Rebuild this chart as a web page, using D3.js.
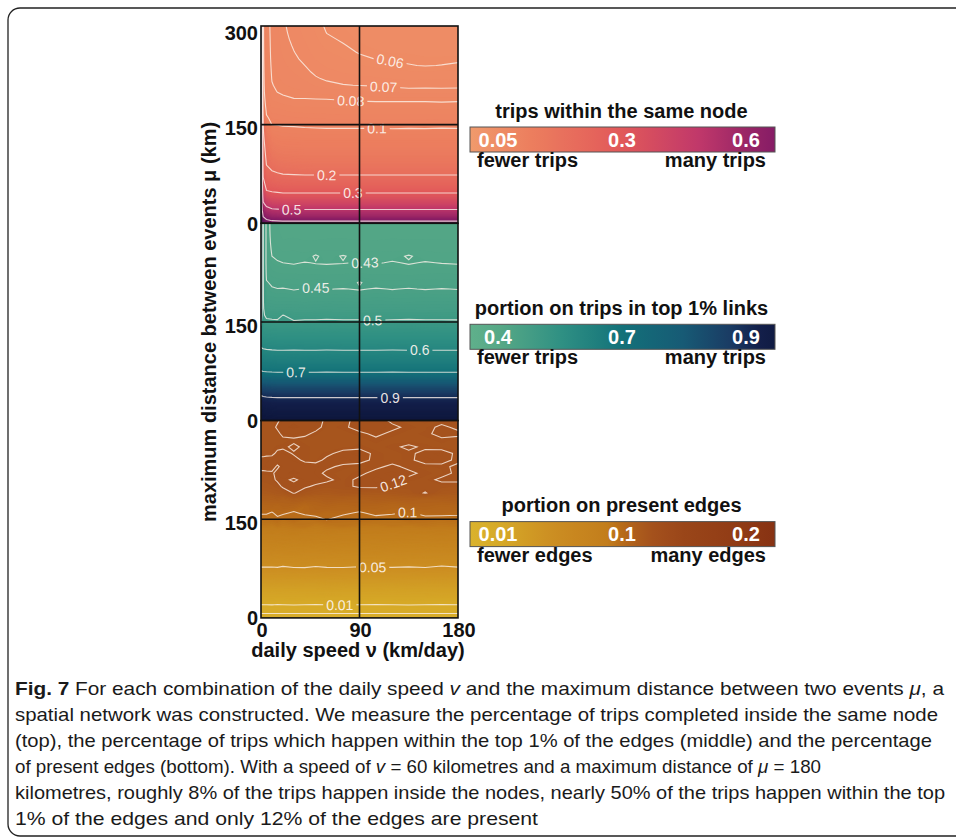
<!DOCTYPE html>
<html>
<head>
<meta charset="utf-8">
<script src="https://cdn.jsdelivr.net/npm/d3@7"></script>
<style>
  body { margin: 0; background: #fff; }
  svg { display: block; }
  .axisText { font-family: "Liberation Sans", Arial, sans-serif; font-weight: bold; font-size: 20px; fill: #111; }
  .clabel { font-family: "Liberation Sans", Arial, sans-serif; font-size: 14px; }
  .caption { font-family: "Liberation Sans Narrow", "Liberation Sans", Arial, sans-serif; font-size: 18.5px; fill: #1a1a1a; }
</style>
</head>
<body>
<div id="chart"></div>
<script>
// grid columns: daily speed v (km/day)
var speeds = [0, 2, 5, 10, 15, 20, 30, 40, 50, 60, 75, 90, 105, 120, 135, 150, 165, 180];
// grid rows: maximum distance between events mu (km)
var distances = [0, 10, 20, 30, 40, 50, 60, 70, 80, 90, 100, 110, 120, 130, 140, 150,
  160, 170, 180, 190, 200, 210, 220, 230, 240, 250, 260, 270, 280, 290, 300];

// trips within the same node (%), one row per distance, one column per speed
var sameNode = [
  [90, 82, 78, 76, 75.5, 75, 75, 75, 75, 75, 75, 75, 75, 75, 75, 75, 75, 75],
  [88, 70, 64, 61, 60.5, 60, 60, 60, 60, 60, 60, 60, 60, 60, 60, 60, 60, 60],
  [85, 60, 55, 52, 51.5, 51, 51, 51, 51, 51, 51, 51, 51, 51, 51, 51, 51, 51],
  [85, 52, 46, 42, 41.5, 41, 41, 41, 41, 41, 41, 41, 41, 41, 41, 41, 41, 41],
  [85, 44, 37, 34, 33.5, 33, 33, 33, 33, 33, 33, 33, 33, 33, 33, 33, 33, 33],
  [85, 38, 30, 29, 28.5, 28, 28, 28, 28, 28, 28, 28, 28, 28, 28, 28, 28, 28],
  [85, 33.5, 26.5, 25, 24.3, 24.1, 24, 24, 24, 24, 24, 24, 24, 24, 24, 24, 24, 24],
  [85, 30, 23.5, 22.3, 21.7, 21.3, 21.15, 21, 21, 21, 21, 21, 21, 21, 21, 21, 21, 21],
  [85, 27.5, 21.2, 20, 19.2, 18.6, 18.3, 18.1, 18, 18, 18, 18, 18, 18, 18, 18, 18, 18],
  [85, 25.5, 19.8, 18, 17, 16.4, 16.2, 16.1, 16, 16, 16, 16, 16, 16, 16, 16, 16, 16],
  [85, 24.2, 18.8, 16.3, 15.2, 14.8, 14.6, 14.5, 14.5, 14.5, 14.5, 14.5, 14.5, 14.5, 14.5, 14.5, 14.5, 14.5],
  [85, 23.2, 17.8, 14.5, 13.6, 13.2, 13.1, 13, 13, 13, 13, 13, 13, 13, 13, 13, 13, 13],
  [85, 22.3, 16.8, 13.2, 12.4, 12.2, 12.1, 12, 12, 12, 12, 12, 12, 12, 12, 12, 12, 12],
  [85, 21.5, 15, 11.9, 11.3, 11.15, 11.1, 11, 11, 11, 11, 11, 11, 11, 11, 11, 11, 11],
  [85, 20.7, 13, 10.8, 10.6, 10.5, 10.45, 10.4, 10.35, 10.3, 10.3, 10.3, 10.3, 10.25, 10.3, 10.3, 10.35, 10.3],
  [85, 20, 11.5, 10.0, 9.95, 9.85, 9.8, 9.7, 9.65, 9.6, 9.6, 9.6, 9.65, 9.6, 9.6, 9.55, 9.6, 9.6],
  [85, 16, 10.3, 9.5, 9.45, 9.35, 9.25, 9.2, 9.15, 9.1, 9.1, 9.1, 9.1, 9.1, 9.1, 9.1, 9.1, 9.1],
  [85, 13, 9.7, 9.05, 9.0, 8.9, 8.75, 8.7, 8.65, 8.62, 8.6, 8.6, 8.6, 8.6, 8.6, 8.6, 8.6, 8.6],
  [85, 11.5, 9.3, 8.65, 8.6, 8.5, 8.35, 8.35, 8.3, 8.3, 8.25, 8.2, 8.2, 8.2, 8.2, 8.2, 8.15, 8.2],
  [85, 10.9, 9.1, 8.35, 8.25, 8.1, 8.0, 7.99, 7.97, 7.95, 7.9, 7.85, 7.8, 7.8, 7.8, 7.8, 7.8, 7.8],
  [85, 10.6, 8.95, 8.17, 7.98, 7.9, 7.8, 7.72, 7.6, 7.55, 7.45, 7.35, 7.3, 7.25, 7.2, 7.2, 7.18, 7.2],
  [85, 10.5, 8.85, 8.05, 7.85, 7.75, 7.62, 7.48, 7.3, 7.15, 7.03, 6.98, 6.95, 6.88, 6.83, 6.85, 6.85, 6.85],
  [85, 10.45, 8.78, 7.96, 7.75, 7.62, 7.46, 7.28, 7.06, 6.92, 6.78, 6.7, 6.65, 6.58, 6.53, 6.55, 6.56, 6.55],
  [85, 10.4, 8.72, 7.9, 7.67, 7.5, 7.32, 7.13, 6.9, 6.72, 6.58, 6.47, 6.4, 6.33, 6.28, 6.25, 6.3, 6.32],
  [85, 10.35, 8.67, 7.85, 7.6, 7.42, 7.2, 7.0, 6.74, 6.55, 6.4, 6.25, 6.15, 6.1, 6.02, 5.98, 6.01, 6.06],
  [85, 10.3, 8.63, 7.8, 7.55, 7.35, 7.1, 6.88, 6.58, 6.4, 6.24, 6.08, 5.99, 5.95, 5.93, 5.9, 5.9, 5.92],
  [85, 10.28, 8.6, 7.77, 7.5, 7.28, 7.02, 6.77, 6.45, 6.27, 6.12, 5.97, 5.9, 5.84, 5.85, 5.8, 5.8, 5.8],
  [85, 10.25, 8.57, 7.75, 7.47, 7.22, 6.95, 6.67, 6.35, 6.16, 6.03, 5.9, 5.82, 5.74, 5.74, 5.7, 5.7, 5.7],
  [85, 10.23, 8.55, 7.73, 7.44, 7.17, 6.88, 6.58, 6.28, 6.07, 5.95, 5.84, 5.75, 5.64, 5.62, 5.6, 5.6, 5.6],
  [85, 10.21, 8.52, 7.71, 7.42, 7.13, 6.82, 6.5, 6.22, 5.99, 5.9, 5.8, 5.7, 5.58, 5.57, 5.55, 5.55, 5.55],
  [85, 10.2, 8.5, 7.7, 7.4, 7.1, 6.76, 6.43, 6.18, 5.93, 5.86, 5.77, 5.66, 5.53, 5.52, 5.5, 5.5, 5.5]
];

// portion of trips on the top 1% links (%)
var topLinks = [
  [98, 97.5, 97.3, 97.1, 97, 97, 97, 97, 97, 97, 97, 97, 97, 97, 97, 97, 97, 97],
  [96.5, 96, 95.8, 95.6, 95.5, 95.5, 95.5, 95.5, 95.5, 95.5, 95.5, 95.5, 95.5, 95.5, 95.5, 95.5, 95.5, 95.5],
  [94.7, 94.2, 94, 93.8, 93.7, 93.7, 93.7, 93.7, 93.7, 93.7, 93.7, 93.7, 93.7, 93.7, 93.7, 93.7, 93.7, 93.7],
  [92.5, 92, 91.8, 91.6, 91.5, 91.5, 91.5, 91.5, 91.5, 91.5, 91.5, 91.5, 91.5, 91.5, 91.5, 91.5, 91.5, 91.5],
  [89.5, 89, 88.8, 88.6, 88.5, 88.5, 88.5, 88.5, 88.5, 88.5, 88.5, 88.5, 88.5, 88.5, 88.5, 88.5, 88.5, 88.5],
  [85, 84.5, 84.3, 84.1, 84, 84, 84, 84, 84, 84, 84, 84, 84, 84, 84, 84, 84, 84],
  [79.5, 79, 78.8, 78.6, 78.5, 78.5, 78.5, 78.5, 78.5, 78.5, 78.5, 78.5, 78.5, 78.5, 78.5, 78.5, 78.5, 78.5],
  [72.5, 72, 71.8, 71.6, 71.5, 71.5, 71.6, 71.4, 71.5, 71.6, 71.5, 71.4, 71.5, 71.6, 71.5, 71.4, 71.5, 71.5],
  [68.3, 67.8, 67.6, 67.4, 67.3, 67.3, 67.3, 67.3, 67.3, 67.3, 67.3, 67.3, 67.3, 67.3, 67.3, 67.3, 67.3, 67.3],
  [65.2, 64.7, 64.5, 64.3, 64.2, 64.2, 64.2, 64.2, 64.2, 64.2, 64.2, 64.2, 64.2, 64.2, 64.2, 64.2, 64.2, 64.2],
  [62.7, 62.2, 62, 61.8, 61.7, 61.7, 61.6, 61.8, 61.7, 61.6, 61.7, 61.8, 61.7, 61.6, 61.7, 61.8, 61.7, 61.7],
  [60.3, 59.8, 59.6, 59.4, 59.3, 59.3, 59.4, 59.2, 59.3, 59.4, 59.3, 59.2, 59.3, 59.4, 59.3, 59.2, 59.3, 59.3],
  [58, 57.5, 57.3, 57.1, 57, 57, 57, 57, 57, 57, 57, 57, 57, 57, 57, 57, 57, 57],
  [56, 55.3, 55.1, 54.9, 54.8, 54.8, 54.8, 54.8, 54.8, 54.8, 54.8, 54.8, 54.8, 54.8, 54.8, 54.8, 54.8, 54.8],
  [57, 53.1, 52.9, 52.7, 52.6, 52.6, 52.5, 52.7, 52.6, 52.5, 52.7, 52.6, 52.5, 52.6, 52.7, 52.5, 52.6, 52.6],
  [62, 51.5, 50.9, 50.7, 50.6, 50.7, 50.3, 50.6, 50.5, 50.8, 50.6, 50.5, 50.4, 50.6, 50.7, 50.5, 50.6, 50.5],
  [68, 50.6, 49.2, 49.0, 48.9, 50.1, 48.9, 48.8, 49.0, 48.9, 48.8, 49.0, 48.9, 48.8, 48.9, 49.0, 48.8, 48.9],
  [70, 50.4, 47.8, 47.6, 47.5, 47.6, 47.5, 47.4, 47.5, 47.6, 47.5, 47.4, 47.5, 47.6, 47.5, 47.4, 47.5, 47.5],
  [70, 50.3, 46.8, 46.6, 46.5, 46.5, 46.6, 46.4, 46.5, 46.6, 46.5, 46.4, 46.6, 46.5, 46.4, 46.5, 46.6, 46.5],
  [70, 50.3, 46.0, 45.85, 45.7, 45.8, 45.6, 45.7, 45.8, 45.6, 45.7, 45.5, 45.8, 45.6, 45.7, 45.8, 45.6, 45.7],
  [70, 50.3, 45.7, 45.2, 45.05, 45.1, 44.9, 45.05, 45.15, 44.95, 45.05, 44.9, 45.1, 44.95, 45.08, 44.92, 45.05, 44.95],
  [70, 50.3, 45.2, 44.65, 44.5, 44.4, 44.5, 44.35, 44.4, 44.45, 44.3, 45.1, 44.4, 44.35, 44.45, 44.4, 44.35, 44.4],
  [70, 50.3, 44.6, 44.15, 44.0, 43.9, 43.95, 43.85, 43.9, 43.8, 43.9, 43.95, 43.85, 43.9, 43.8, 43.9, 43.95, 43.9],
  [70, 50.3, 44.3, 43.7, 43.5, 43.45, 43.35, 43.4, 43.3, 43.45, 43.4, 43.35, 43.45, 43.4, 43.3, 43.4, 43.45, 43.35],
  [70, 50.3, 44.1, 43.3, 43.1, 43.0, 42.9, 43.05, 42.95, 42.85, 42.95, 43.05, 42.9, 43.1, 42.9, 43.08, 42.95, 42.9],
  [70, 50.3, 44.1, 43.0, 42.8, 42.6, 42.65, 42.55, 43.15, 42.6, 43.1, 42.55, 42.6, 42.65, 43.12, 42.6, 42.55, 42.6],
  [70, 50.3, 44.1, 42.8, 42.55, 42.35, 42.4, 42.3, 42.35, 42.4, 42.3, 42.35, 42.4, 42.3, 42.35, 42.4, 42.3, 42.35],
  [70, 50.3, 44.1, 42.6, 42.35, 42.1, 42.15, 42.05, 42.1, 42.15, 42.1, 42.05, 42.1, 42.15, 42.1, 42.05, 42.1, 42.1],
  [70, 50.3, 44.1, 42.45, 42.2, 41.9, 41.95, 41.9, 41.85, 41.9, 41.95, 41.9, 41.85, 41.9, 41.9, 41.95, 41.9, 41.9],
  [70, 50.3, 44.1, 42.35, 42.1, 41.75, 41.75, 41.8, 41.75, 41.7, 41.75, 41.8, 41.75, 41.7, 41.75, 41.75, 41.8, 41.75],
  [70, 50.3, 44.1, 42.3, 42.0, 41.6, 41.6, 41.65, 41.6, 41.55, 41.6, 41.65, 41.6, 41.55, 41.6, 41.6, 41.65, 41.6]
];

// portion of present edges (%)
var presentEdges = [
  [0.3, 0.3, 0.3, 0.3, 0.3, 0.3, 0.3, 0.3, 0.3, 0.3, 0.3, 0.3, 0.3, 0.3, 0.3, 0.3, 0.3, 0.3],
  [0.6, 0.6, 0.6, 0.6, 0.6, 0.6, 0.6, 0.6, 0.6, 0.6, 0.6, 0.6, 0.6, 0.6, 0.6, 0.6, 0.6, 0.6],
  [1.0, 1.0, 1.0, 1.01, 0.99, 1.0, 1.02, 1.0, 0.99, 1.0, 1.01, 1.0, 0.99, 1.0, 1.02, 1.0, 0.99, 1.0],
  [1.6, 1.6, 1.6, 1.62, 1.58, 1.6, 1.63, 1.6, 1.58, 1.61, 1.6, 1.62, 1.59, 1.6, 1.61, 1.6, 1.58, 1.6],
  [2.3, 2.3, 2.3, 2.28, 2.33, 2.3, 2.27, 2.32, 2.3, 2.34, 2.29, 2.3, 2.33, 2.28, 2.3, 2.32, 2.29, 2.3],
  [3.0, 3.0, 3.0, 3.05, 2.97, 3.02, 3.06, 2.96, 3.0, 3.04, 2.98, 3.03, 3.0, 2.97, 3.05, 3.0, 3.02, 2.98],
  [3.8, 3.8, 3.8, 3.76, 3.84, 3.8, 3.75, 3.85, 3.78, 3.82, 3.86, 3.77, 3.8, 3.84, 3.76, 3.8, 3.83, 3.78],
  [4.5, 4.5, 4.5, 4.55, 4.46, 4.52, 4.58, 4.45, 4.5, 4.56, 4.44, 4.5, 4.54, 4.47, 4.52, 4.6, 4.58, 4.5],
  [5.2, 5.2, 5.2, 5.15, 5.25, 5.1, 5.22, 5.3, 5.12, 5.2, 5.27, 5.14, 5.2, 5.25, 5.15, 5.2, 5.05, 5.2],
  [5.9, 5.9, 5.9, 5.95, 5.85, 5.92, 5.88, 5.96, 5.9, 5.84, 5.93, 5.9, 5.87, 5.95, 5.9, 5.86, 5.92, 5.9],
  [6.6, 6.6, 6.6, 6.65, 6.55, 6.62, 6.7, 6.58, 6.6, 6.66, 6.54, 6.6, 6.68, 6.57, 6.62, 6.6, 6.56, 6.64],
  [7.3, 7.3, 7.3, 7.35, 7.25, 7.4, 7.28, 7.32, 7.22, 7.36, 7.3, 7.26, 7.38, 7.3, 7.24, 7.34, 7.3, 7.28],
  [8.0, 8.0, 8.0, 7.9, 8.1, 8.05, 7.95, 8.15, 8.0, 7.88, 8.08, 8.0, 7.92, 8.12, 8.0, 7.95, 8.06, 8.0],
  [8.6, 8.6, 8.6, 8.7, 8.5, 8.65, 8.8, 8.55, 8.6, 8.75, 8.5, 8.62, 8.7, 8.52, 8.68, 8.6, 8.74, 8.58],
  [9.2, 9.2, 9.2, 9.1, 9.35, 9.15, 9.3, 9.4, 9.1, 9.25, 9.45, 9.2, 9.1, 9.3, 9.15, 9.35, 9.2, 9.3],
  [9.7, 9.7, 9.7, 9.75, 9.85, 9.6, 9.95, 9.55, 9.75, 10.05, 9.65, 9.8, 9.7, 9.55, 9.95, 9.8, 9.65, 9.85],
  [10.1, 10.1, 10.1, 9.95, 10.2, 10.15, 9.9, 10.2, 10.3, 10.05, 10.2, 9.9, 10.25, 10.15, 9.95, 10.2, 10.3, 10.1],
  [10.4, 10.4, 10.45, 10.5, 10.3, 10.6, 10.5, 10.1, 10.5, 10.6, 10.4, 10.6, 10.5, 10.3, 10.5, 10.6, 10.4, 10.5],
  [10.9, 10.9, 10.9, 10.85, 11.0, 10.8, 11.1, 10.9, 10.8, 11.0, 10.9, 10.8, 11.0, 10.9, 11.0, 10.8, 10.9, 11.0],
  [11.3, 11.3, 11.35, 11.4, 11.5, 11.6, 12.05, 11.7, 11.5, 11.4, 11.6, 11.5, 11.4, 11.5, 11.6, 12.05, 11.5, 11.4],
  [11.6, 11.6, 11.65, 11.7, 11.8, 12.1, 12.2, 12.1, 11.9, 11.8, 11.85, 12.1, 12.15, 11.9, 11.8, 11.75, 11.8, 11.7],
  [11.8, 11.8, 11.8, 11.85, 12.1, 12.15, 11.9, 12.2, 12.25, 12.1, 11.85, 12.1, 12.2, 12.15, 11.9, 11.85, 12.1, 12.15],
  [11.9, 11.9, 11.9, 11.9, 12.2, 12.3, 12.35, 12.3, 12.15, 11.9, 11.85, 11.9, 12.15, 12.2, 12.1, 11.9, 11.85, 12.1],
  [12.15, 12.15, 12.2, 12.25, 11.9, 12.2, 12.3, 12.25, 12.2, 12.1, 11.9, 11.85, 11.9, 12.1, 11.9, 11.85, 11.9, 12.1],
  [12.1, 12.1, 12.15, 12.2, 12.3, 12.25, 12.15, 11.9, 11.85, 12.1, 12.2, 12.15, 11.9, 11.85, 11.9, 12.2, 12.15, 11.9],
  [11.9, 11.9, 11.9, 11.9, 12.1, 12.2, 11.95, 11.9, 11.85, 11.9, 12.15, 12.2, 11.9, 11.85, 11.9, 12.15, 12.2, 11.9],
  [11.85, 11.85, 11.85, 11.85, 11.9, 11.9, 12.1, 11.9, 11.85, 11.8, 11.85, 11.9, 11.85, 11.9, 12.1, 11.9, 11.85, 11.85],
  [11.8, 11.8, 11.8, 11.8, 11.8, 11.85, 11.9, 11.85, 11.8, 11.85, 11.8, 11.85, 11.9, 11.85, 11.8, 11.85, 11.9, 11.85],
  [11.8, 11.8, 11.8, 11.8, 11.85, 12.15, 12.2, 12.1, 11.9, 11.8, 11.85, 11.9, 12.1, 11.9, 11.85, 11.9, 12.15, 12.1],
  [11.8, 11.8, 11.8, 11.8, 12.1, 12.3, 12.35, 12.3, 12.15, 11.85, 11.9, 12.2, 12.3, 12.1, 11.9, 11.85, 12.1, 11.9],
  [11.85, 11.85, 11.85, 11.85, 11.9, 12.2, 12.3, 12.25, 12.2, 11.9, 11.85, 12.2, 12.25, 11.9, 11.85, 11.9, 11.85, 11.9]
];

// contour levels (%)
var sameNodeLevels = [6, 7, 8, 10, 20, 30, 50, 70];
var topLinksLevels = [43, 45, 50, 60, 70, 90];
var presentEdgesLevels = [0.5, 1, 5, 10, 12];

var legendTitles = ["trips within the same node", "portion on trips in top 1% links", "portion on present edges"];
var legendTicks = [[0.05, 0.3, 0.6], [0.4, 0.7, 0.9], [0.01, 0.1, 0.2]];
var legendEnds = [["fewer trips", "many trips"], ["fewer trips", "many trips"], ["fewer edges", "many edges"]];

var xTicks = [0, 90, 180];
var yTicks = [300, 150, 0];

var captionLines = [
  "**Fig. 7** For each combination of the daily speed *v* and the maximum distance between two events *μ*, a",
  "spatial network was constructed. We measure the percentage of trips completed inside the same node",
  "(top), the percentage of trips which happen within the top 1% of the edges (middle) and the percentage",
  "of present edges (bottom). With a speed of *v* = 60 kilometres and a maximum distance of *μ* = 180",
  "kilometres, roughly 8% of the trips happen inside the nodes, nearly 50% of the trips happen within the top",
  "1% of the edges and only 12% of the edges are present"
];

// ---- layout / style ----
var svgWidth = 956, svgHeight = 839;
var plotLeft = 261, plotRight = 458, plotTop = 26, panelH = 197.3;
var barLeft = 470, barWidth = 305, barH = 25;
var tickU = [28 / 305, 0.5, 276 / 305];   // where the three legend ticks sit along a bar
var captionEnds = [944, 938, 932, 821, 945, 538];

var panels = [
  { values: sameNode, levels: sameNodeLevels,
    rampAt: [0, 0.2, 0.5, 0.75, 0.92, 1.0, 1.15, 1.35],
    ramp: ["#f09a6c", "#ec7e5e", "#e1585a", "#c0386a", "#962466", "#861c66", "#651a5f", "#3f1552"],
    labels: [[6, 118, 243], [7, 112, 210], [8, 82, 188], [10, 106, 144], [20, 60, 72], [30, 84, 44], [50, 28, 21]] },
  { values: topLinks, levels: topLinksLevels,
    rampAt: [0, 0.1, 0.3, 0.5, 0.7, 0.85, 0.95, 1.05],
    ramp: ["#5fb08b", "#56a886", "#2f9083", "#137179", "#175a75", "#1a3c64", "#131f4a", "#0d163c"],
    labels: [[43, 95, 238], [45, 50, 201], [50, 102, 153], [60, 145, 106], [70, 32, 73], [90, 118, 35]] },
  { values: presentEdges, levels: presentEdgesLevels,
    rampAt: [0, 0.1, 0.27, 0.45, 0.5, 0.58, 0.7, 0.905, 1.0],
    ramp: ["#dab22c", "#d6a927", "#cc8e22", "#c27d1c", "#b76a19", "#a6531d", "#9a4619", "#8f3a15", "#873213"],
    labels: [[12, 121, 195], [10, 134, 160], [5, 102, 76], [1, 72, 20]] }
];

var svg = d3.select("#chart").append("svg")
  .attr("width", svgWidth)
  .attr("height", svgHeight);

svg.append("rect").attr("width", svgWidth).attr("height", svgHeight).attr("fill", "#fff");

// outer frame of the figure
svg.append("rect")
  .attr("x", 8).attr("y", 8)
  .attr("width", 1000).attr("height", 828)
  .attr("rx", 12)
  .attr("fill", "none")
  .attr("stroke", "#222")
  .attr("stroke-width", 1.3);

var defs = svg.append("defs");

var xScale = d3.scaleLinear().domain([0, 180]).range([plotLeft, plotRight]);
// grid coordinate (cell centre at i + 0.5) -> data value
var gx = d3.scaleLinear().domain(speeds.map(function(d, i) { return i + 0.5; })).range(speeds);
var gy = d3.scaleLinear().domain(distances.map(function(d, i) { return i + 0.5; })).range(distances);

var fmtLevel = function(l) { return String(+(l / 100).toFixed(3)); };

panels.forEach(function(p, k) {
  var top = plotTop + k * panelH;
  var yScale = d3.scaleLinear().domain([0, 300]).range([top + panelH, top]);
  var toU = d3.scaleLinear().domain(legendTicks[k].map(function(t) { return t * 100; })).range(tickU);
  var color = d3.scaleLinear().domain(p.rampAt).range(p.ramp).clamp(true);

  var flat = d3.merge(p.values);
  var nx = speeds.length, ny = distances.length;
  var proj = d3.geoTransform({
    point: function(x, y) { this.stream.point(xScale(gx(x)), yScale(gy(y))); }
  });
  var path = d3.geoPath(proj);

  defs.append("clipPath").attr("id", "clip" + k)
    .append("rect")
    .attr("x", plotLeft).attr("y", top)
    .attr("width", plotRight - plotLeft).attr("height", panelH);

  var g = svg.append("g").attr("clip-path", "url(#clip" + k + ")");

  // smooth heat map: many thin filled bands
  var ext = d3.extent(flat);
  var step = 0.006;
  var uVals = d3.range(toU(ext[0]), toU(ext[1]), step);
  g.append("rect")
    .attr("x", plotLeft).attr("y", top)
    .attr("width", plotRight - plotLeft).attr("height", panelH)
    .attr("fill", color(toU(ext[0])));
  var bands = d3.contours().size([nx, ny])
    .thresholds(uVals.map(function(u) { return toU.invert(u); }))(flat);
  g.selectAll(".band")
    .data(bands)
    .enter()
    .append("path")
    .attr("class", "band")
    .attr("d", path)
    .attr("fill", function(d) { return color(toU(d.value) + step / 2); });

  // contour lines with gaps for the labels
  var lines = d3.contours().size([nx, ny]).thresholds(p.levels)(flat);
  var mask = defs.append("mask").attr("id", "mask" + k)
    .attr("maskUnits", "userSpaceOnUse")
    .attr("x", 0).attr("y", 0).attr("width", svgWidth).attr("height", svgHeight);
  mask.append("rect").attr("width", svgWidth).attr("height", svgHeight).attr("fill", "#fff");

  g.append("g").attr("mask", "url(#mask" + k + ")")
    .selectAll("path")
    .data(lines)
    .enter()
    .append("path")
    .attr("d", path)
    .attr("fill", "none")
    .attr("stroke", "#fbf1ea")
    .attr("stroke-opacity", 0.8)
    .attr("stroke-width", 1.1);

  p.labels.forEach(function(lab) {
    var geom = lines.find(function(c) { return c.value === lab[0]; });
    var hx = xScale(lab[1]), hy = yScale(lab[2]);
    var best = null;
    geom.coordinates.forEach(function(poly) {
      poly.forEach(function(ring) {
        var pts = ring.map(function(c) { return [xScale(gx(c[0])), yScale(gy(c[1]))]; });
        for (var i = 1; i < pts.length; i++) {
          var a = pts[i - 1], b = pts[i];
          if ((a[0] - hx) * (b[0] - hx) > 0 || a[0] === b[0]) continue;
          var y = a[1] + (hx - a[0]) / (b[0] - a[0]) * (b[1] - a[1]);
          var dist = Math.abs(y - hy);
          if (!best || dist < best.dist) {
            var p0 = pts[Math.max(0, i - 3)], p1 = pts[Math.min(pts.length - 1, i + 2)];
            var ang = Math.atan2(p1[1] - p0[1], p1[0] - p0[0]) * 180 / Math.PI;
            if (ang > 90) ang -= 180;
            if (ang < -90) ang += 180;
            best = { y: y, dist: dist, ang: Math.max(-30, Math.min(30, ang)) };
          }
        }
      });
    });
    if (!best) best = { y: hy, ang: 0 };
    var tr = "translate(" + hx + "," + best.y + ") rotate(" + best.ang + ")";
    var t = g.append("text")
      .attr("class", "clabel")
      .attr("transform", tr)
      .attr("text-anchor", "middle")
      .attr("dy", "0.36em")
      .attr("fill", "#fdf6f1")
      .attr("fill-opacity", 0.92)
      .text(fmtLevel(lab[0]));
    var w = t.node().getComputedTextLength();
    mask.append("rect")
      .attr("transform", tr)
      .attr("x", -w / 2 - 3).attr("y", -7)
      .attr("width", w + 6).attr("height", 14)
      .attr("fill", "#000");
  });

  // grid lines and border
  svg.append("line")
    .attr("x1", xScale(90)).attr("x2", xScale(90))
    .attr("y1", top).attr("y2", top + panelH)
    .attr("stroke", "#111").attr("stroke-width", 1.6);
  svg.append("line")
    .attr("x1", plotLeft).attr("x2", plotRight)
    .attr("y1", yScale(150)).attr("y2", yScale(150))
    .attr("stroke", "#111").attr("stroke-width", 1.6);
  svg.append("rect")
    .attr("x", plotLeft).attr("y", top)
    .attr("width", plotRight - plotLeft).attr("height", panelH)
    .attr("fill", "none").attr("stroke", "#111").attr("stroke-width", 1.6);

  // y tick labels
  var nudge = { 300: 7, 150: 3.5, 0: 0 };
  svg.selectAll(".ytick" + k)
    .data(yTicks.filter(function(d) { return k === 0 || d < 300; }))
    .enter()
    .append("text")
    .attr("class", "axisText")
    .attr("x", plotLeft - 3)
    .attr("y", function(d) { return yScale(d) + nudge[d]; })
    .attr("dy", "0.36em")
    .attr("text-anchor", "end")
    .text(function(d) { return d; });

  // colour bar legend
  var barY = top + 101;
  var gradId = "grad" + k;
  var grad = defs.append("linearGradient").attr("id", gradId);
  grad.selectAll("stop")
    .data(d3.range(0, 1.0001, 0.05))
    .enter()
    .append("stop")
    .attr("offset", function(u) { return u; })
    .attr("stop-color", function(u) { return color(u); });

  svg.append("text")
    .attr("class", "axisText")
    .attr("x", barLeft + barWidth / 2 - 1)
    .attr("y", barY - 9.5)
    .attr("text-anchor", "middle")
    .text(legendTitles[k]);

  svg.append("rect")
    .attr("x", barLeft).attr("y", barY)
    .attr("width", barWidth).attr("height", barH)
    .attr("fill", "url(#" + gradId + ")")
    .attr("stroke", "#555").attr("stroke-width", 1);

  var barPos = d3.scalePoint().domain(legendTicks[k]).range([barLeft + tickU[0] * barWidth, barLeft + tickU[2] * barWidth]);
  svg.selectAll(".btick" + k)
    .data(legendTicks[k])
    .enter()
    .append("text")
    .attr("class", "axisText")
    .attr("x", function(d) { return barPos(d); })
    .attr("y", barY + 19.5)
    .attr("text-anchor", "middle")
    .style("fill", "#fff")
    .text(function(d) { return d; });

  svg.append("text")
    .attr("class", "axisText")
    .attr("x", barLeft + 7)
    .attr("y", barY + 40)
    .text(legendEnds[k][0]);
  svg.append("text")
    .attr("class", "axisText")
    .attr("x", barLeft + barWidth - 9)
    .attr("y", barY + 40)
    .attr("text-anchor", "end")
    .text(legendEnds[k][1]);
});

// x axis tick labels and titles
var bottom = plotTop + 3 * panelH;
svg.selectAll(".xtick")
  .data(xTicks)
  .enter()
  .append("text")
  .attr("class", "axisText")
  .attr("x", function(d) { return xScale(d) + 1; })
  .attr("y", bottom + 19)
  .attr("text-anchor", "middle")
  .text(function(d) { return d; });

svg.append("text")
  .attr("class", "axisText")
  .attr("x", 358)
  .attr("y", bottom + 39)
  .attr("text-anchor", "middle")
  .text("daily speed ν (km/day)");

svg.append("text")
  .attr("class", "axisText")
  .attr("transform", "translate(216," + (plotTop + 1.5 * panelH) + ") rotate(-90)")
  .attr("text-anchor", "middle")
  .text("maximum distance between events μ (km)");

// caption, one text element per line
captionLines.forEach(function(line, i) {
  var t = svg.append("text")
    .attr("class", "caption")
    .attr("x", 15)
    .attr("y", 695 + i * 26)
    .attr("textLength", captionEnds[i] - 15)
    .attr("lengthAdjust", "spacingAndGlyphs");
  line.split(/(\*\*[^*]+\*\*|\*[^*]+\*)/).forEach(function(seg) {
    if (!seg) return;
    var ts = t.append("tspan");
    if (seg.indexOf("**") === 0) ts.attr("font-weight", "bold").text(seg.slice(2, -2));
    else if (seg.indexOf("*") === 0) ts.attr("font-style", "italic").text(seg.slice(1, -1));
    else ts.text(seg);
  });
});
</script>
</body>
</html>
